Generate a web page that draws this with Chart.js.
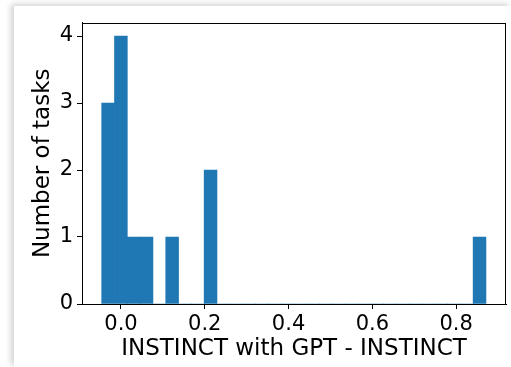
<!DOCTYPE html>
<html>
<head>
<meta charset="utf-8">
<script src="https://cdn.jsdelivr.net/npm/chart.js@4.4.0/dist/chart.umd.min.js"></script>
<style>
    html, body { margin: 0; padding: 0; background: #fff; }
    #frame {
        position: absolute; left: 14px; top: 6px;
        width: 497px; height: 361px; background: #fff;
        box-shadow: -3px -2px 6px rgba(0, 0, 0, 0.18);
    }
    canvas { display: block; }
</style>
</head>
<body>
<div id="frame"><canvas id="hist" width="497" height="361"></canvas></div>
<script>
// histogram bin edges (30 bins) and counts per bin
const binEdges = [-0.046, -0.0154, 0.0151, 0.0457, 0.0763, 0.1069, 0.1374, 0.168, 0.1986, 0.2291,
    0.2597, 0.2903, 0.3209, 0.3514, 0.382, 0.4126, 0.4431, 0.4737, 0.5043, 0.5349,
    0.5654, 0.596, 0.6266, 0.6571, 0.6877, 0.7183, 0.7489, 0.7794, 0.81, 0.8406, 0.8711];
const binCounts = [3, 4, 1, 1, 0, 1, 0, 0, 2, 0,
    0, 0, 0, 0, 0, 0, 0, 0, 0, 0,
    0, 0, 0, 0, 0, 0, 0, 0, 0, 1];
const xTicks = [0.0, 0.2, 0.4, 0.6, 0.8];
const yTicks = [0, 1, 2, 3, 4];

const pontos = binCounts.map(function(c, i) {
    return { x: (binEdges[i] + binEdges[i + 1]) / 2, y: c };
});

const frameBox = {
    id: 'frameBox',
    afterDraw(chart) {
        const a = chart.chartArea;
        const ctx = chart.ctx;
        ctx.save();
        ctx.strokeStyle = '#000';
        ctx.lineWidth = 1;
        ctx.strokeRect(Math.round(a.left) + 0.5, Math.round(a.top) + 0.5,
            Math.round(a.right - a.left) - 1, Math.round(a.bottom - a.top));
        ctx.restore();
    }
};

const fonteTicks = { family: 'DejaVu Sans', size: 21 };
const fonteTitulo = { family: 'DejaVu Sans', size: 23 };

new Chart(document.getElementById('hist').getContext('2d'), {
    type: 'bar',
    data: {
        datasets: [{
            data: pontos,
            backgroundColor: '#1f77b4',
            borderWidth: 0,
            barPercentage: 1,
            categoryPercentage: 1
        }]
    },
    options: {
        responsive: false,
        animation: false,
        layout: { padding: { top: 12, right: 5, left: 0, bottom: 0 } },
        plugins: { legend: { display: false }, tooltip: { enabled: false } },
        scales: {
            x: {
                type: 'linear',
                min: -0.093,
                max: 0.919,
                offset: false,
                afterBuildTicks: function(axis) {
                    axis.ticks = xTicks.map(v => ({ value: v }));
                },
                afterFit: function(axis) { axis.height = 63; },
                ticks: {
                    color: '#000', font: fonteTicks, padding: 3, maxRotation: 0,
                    callback: v => v.toFixed(1)
                },
                grid: { offset: false, drawOnChartArea: false, tickLength: 5, tickColor: '#000' },
                border: { color: '#000' },
                title: {
                    display: true, text: 'INSTINCT with GPT - INSTINCT',
                    color: '#000', font: fonteTitulo, padding: { top: 0 }
                }
            },
            y: {
                min: 0,
                max: 4.2,
                afterBuildTicks: function(axis) {
                    axis.ticks = yTicks.map(v => ({ value: v }));
                },
                afterFit: function(axis) { axis.width = 68; },
                ticks: { color: '#000', font: fonteTicks, padding: 4 },
                grid: { drawOnChartArea: false, tickLength: 5, tickColor: '#000' },
                border: { color: '#000' },
                title: {
                    display: true, text: 'Number of tasks',
                    color: '#000', font: fonteTitulo, padding: { top: 15, bottom: 0 }
                }
            }
        }
    },
    plugins: [frameBox]
});
</script>
</body>
</html>
